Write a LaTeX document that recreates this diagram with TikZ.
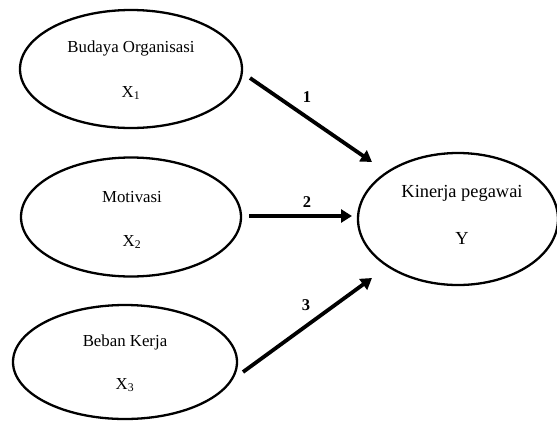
\documentclass[tikz,border=0pt]{standalone}
\usepackage{fontspec}
\setmainfont{Liberation Serif}
\usetikzlibrary{shapes.geometric,arrows.meta}
\begin{document}
\begin{tikzpicture}[x=1pt,y=-1pt,
  var/.style={draw, line width=2.3pt, ellipse, inner sep=0pt},
  txt/.style={font=\fontsize{16.8}{18}\selectfont, inner sep=0pt},
  ytxt/.style={font=\fontsize{18.4}{20}\selectfont, inner sep=0pt},
  arr/.style={line width=3.8pt, -{Triangle[length=11pt,width=13pt]}},
  lbl/.style={font=\fontsize{16.5}{18}\selectfont\bfseries, inner sep=0pt}]
\useasboundingbox (0,0) rectangle (557,421);
% ellipses
\node[var, minimum width=222pt, minimum height=118pt] (x1) at (131,69) {};
\node[var, minimum width=220pt, minimum height=119pt] (x2) at (131,217) {};
\node[var, minimum width=224pt, minimum height=114pt] (x3) at (125,362) {};
\node[var, minimum width=200pt, minimum height=132pt] (y) at (458,219) {};
% texts
\node[txt] (t1) at (131,48) {Budaya Organisasi};
\node[txt] (s1) at (131,93) {X\textsubscript{1}};
\node[txt] (t2) at (132,197) {Motivasi};
\node[txt] (s2) at (132,242) {X\textsubscript{2}};
\node[txt] (t3) at (125,342) {Beban Kerja};
\node[txt] (s3) at (125,385) {X\textsubscript{3}};
\node[ytxt] (ty) at (462,193) {Kinerja pegawai};
\node[ytxt] (sy) at (462,238) {Y};
% arrow ends
\coordinate (a1s) at (250,78);
\coordinate (a1e) at (372,162);
\coordinate (a2s) at (249,216);
\coordinate (a2e) at (352,216);
\coordinate (a3s) at (243,372);
\coordinate (a3e) at (372,278);
\draw[arr] (a1s) -- (a1e);
\draw[arr] (a2s) -- (a2e);
\draw[arr] (a3s) -- (a3e);
% labels
\node[lbl] (l1) at (307,97) {1};
\node[lbl] (l2) at (307,202) {2};
\node[lbl] (l3) at (306,305) {3};
\end{tikzpicture}
\end{document}
